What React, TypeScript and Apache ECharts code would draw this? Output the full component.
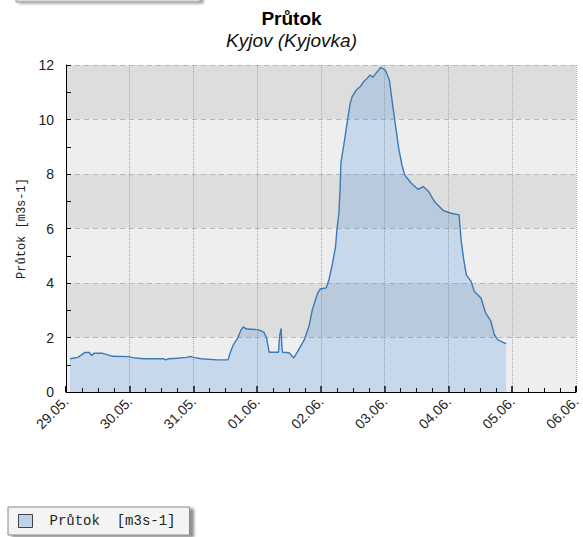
import React, { useEffect, useRef } from "react";
import * as echarts from "echarts";

const times: string[] = [
  "2010-05-29 01:30", "2010-05-29 04:30", "2010-05-29 06:15", "2010-05-29 07:00",
  "2010-05-29 08:45", "2010-05-29 09:45", "2010-05-29 10:30", "2010-05-29 13:45",
  "2010-05-29 15:30", "2010-05-29 17:30", "2010-05-29 23:45", "2010-05-30 01:00",
  "2010-05-30 05:15", "2010-05-30 12:45", "2010-05-30 13:30", "2010-05-30 14:45",
  "2010-05-30 17:45", "2010-05-30 21:30", "2010-05-30 22:45", "2010-05-31 00:00",
  "2010-05-31 03:00", "2010-05-31 08:45", "2010-05-31 13:00", "2010-05-31 14:00",
  "2010-05-31 15:00", "2010-05-31 16:15", "2010-05-31 16:45", "2010-05-31 17:45",
  "2010-05-31 18:45", "2010-05-31 20:00", "2010-06-01 00:15", "2010-06-01 02:30",
  "2010-06-01 03:30", "2010-06-01 04:30", "2010-06-01 08:00", "2010-06-01 08:30",
  "2010-06-01 09:00", "2010-06-01 09:15", "2010-06-01 09:30", "2010-06-01 12:00",
  "2010-06-01 13:45", "2010-06-01 15:15", "2010-06-01 17:45", "2010-06-01 19:30",
  "2010-06-01 20:45", "2010-06-01 22:45", "2010-06-01 23:45", "2010-06-02 02:00",
  "2010-06-02 03:00", "2010-06-02 04:15", "2010-06-02 05:30", "2010-06-02 06:00",
  "2010-06-02 06:45", "2010-06-02 07:15", "2010-06-02 07:30", "2010-06-02 08:30",
  "2010-06-02 09:15", "2010-06-02 10:00", "2010-06-02 11:00", "2010-06-02 11:45",
  "2010-06-02 13:15", "2010-06-02 14:45", "2010-06-02 16:00", "2010-06-02 17:15",
  "2010-06-02 18:30", "2010-06-02 19:30", "2010-06-02 20:45", "2010-06-02 22:30",
  "2010-06-03 00:15", "2010-06-03 01:45", "2010-06-03 03:15", "2010-06-03 05:15",
  "2010-06-03 06:30", "2010-06-03 07:30", "2010-06-03 10:00", "2010-06-03 12:30",
  "2010-06-03 14:30", "2010-06-03 16:30", "2010-06-03 18:45", "2010-06-03 22:00",
  "2010-06-04 01:00", "2010-06-04 04:00", "2010-06-04 04:45", "2010-06-04 05:45",
  "2010-06-04 06:45", "2010-06-04 08:30", "2010-06-04 09:45", "2010-06-04 12:15",
  "2010-06-04 14:00", "2010-06-04 16:00", "2010-06-04 17:15", "2010-06-04 18:30",
  "2010-06-04 21:00", "2010-06-04 21:45",
];

const flows: number[] = [
  1.22, 1.27, 1.39, 1.45,
  1.45, 1.34, 1.42, 1.42,
  1.37, 1.31, 1.30, 1.26,
  1.22, 1.22, 1.18, 1.22,
  1.24, 1.27, 1.31, 1.27,
  1.22, 1.18, 1.18, 1.49,
  1.73, 1.92, 2.0, 2.25,
  2.39, 2.31, 2.29, 2.2,
  1.99, 1.46, 1.46, 2.1,
  2.33, 1.74, 1.46, 1.44,
  1.25, 1.49, 1.92, 2.41,
  3.02, 3.63, 3.78, 3.82,
  4.12, 4.67, 5.34, 5.95,
  6.56, 7.54, 8.4, 9.0,
  9.49, 9.98, 10.59, 10.84,
  11.08, 11.2, 11.38, 11.5,
  11.63, 11.55, 11.7, 11.91,
  11.81, 11.45, 10.35, 8.95,
  8.33, 7.97, 7.66, 7.44,
  7.54, 7.36, 6.99, 6.66,
  6.56, 6.5, 5.59, 4.86,
  4.3, 4.06, 3.69, 3.45,
  2.9, 2.59, 2.11, 1.92,
  1.8, 1.78,
];

const xStart = "2010-05-29 00:00";
const xEnd = "2010-06-06 00:00";
const yMin = 0;
const yMax = 12;
const yStep = 2;

const titleText = "Průtok";
const subtitleText = "Kyjov (Kyjovka)";
const yName = "Průtok [m3s-1]";
const seriesName = "Průtok\u00a0\u00a0[m3s-1]";

const DAY = 24 * 3600 * 1000;

function fmtDay(v: number): string {
  const d = new Date(v);
  const dd = String(d.getDate()).padStart(2, "0");
  const mm = String(d.getMonth() + 1).padStart(2, "0");
  return dd + "." + mm + ".";
}

export default function App() {
  const ref = useRef<HTMLDivElement>(null);
  useEffect(() => {
    if (!ref.current) return;
    const chart = echarts.init(ref.current, null, { renderer: "svg" });
    chart.setOption({
      animation: false,
      backgroundColor: "#ffffff",
      title: {
        text: titleText,
        subtext: subtitleText,
        left: "center",
        top: 4,
        itemGap: 3,
        textStyle: { fontFamily: "Liberation Sans", fontSize: 19, fontWeight: "bold", color: "#000" },
        subtextStyle: { fontFamily: "Liberation Sans", fontSize: 19, fontStyle: "italic", color: "#111" },
      },
      graphic: [
        {
          type: "rect",
          shape: { x: 16, y: -12, width: 184, height: 14 },
          style: {
            fill: "#d9d9d9",
            stroke: "#9a9a9a",
            lineWidth: 1,
            shadowBlur: 3,
            shadowColor: "rgba(0,0,0,0.4)",
            shadowOffsetX: 3,
            shadowOffsetY: 1,
          },
        },
      ],
      legend: {
        left: 8,
        top: 507,
        padding: [7, 14, 7, 10],
        backgroundColor: "#f4f4f4",
        borderColor: "#888",
        borderWidth: 1,
        shadowColor: "rgba(0,0,0,0.45)",
        shadowBlur: 3,
        shadowOffsetX: 4,
        shadowOffsetY: 2,
        itemWidth: 14,
        itemHeight: 13,
        textStyle: { fontFamily: "Liberation Mono", fontSize: 14, color: "#222", padding: [0, 0, 0, 12] },
        data: [
          {
            name: seriesName,
            icon: "rect",
            itemStyle: { color: "#bcd3e8", borderColor: "#444", borderWidth: 1 },
          },
        ],
      },
      grid: { left: 66, right: 2, top: 65, bottom: 145, containLabel: false },
      xAxis: {
        type: "time",
        min: xStart,
        max: xEnd,
        minInterval: DAY,
        maxInterval: DAY,
        axisLine: { show: true, lineStyle: { color: "#000", width: 1 } },
        axisTick: { show: true, inside: true, length: 6, lineStyle: { color: "#000", width: 1.5 } },
        minorTick: { show: true, splitNumber: 4, length: 4, lineStyle: { color: "#000", width: 1 } },
        axisLabel: {
          rotate: 45,
          margin: 7,
          fontFamily: "Liberation Sans",
          fontSize: 14,
          color: "#222",
          showMinLabel: true,
          showMaxLabel: true,
          formatter: (v: number) => fmtDay(v),
        },
        splitLine: { show: true, lineStyle: { type: "dotted", color: "#aaaaaa", width: 1 } },
      },
      yAxis: {
        type: "value",
        min: yMin,
        max: yMax,
        interval: yStep,
        name: yName,
        nameLocation: "middle",
        nameRotate: 90,
        nameGap: 37,
        nameTextStyle: { fontFamily: "Liberation Mono", fontSize: 12, color: "#222" },
        axisLine: { show: true, lineStyle: { color: "#000", width: 1 } },
        axisTick: { show: true, inside: true, length: 5, lineStyle: { color: "#000" } },
        minorTick: { show: true, splitNumber: 2, length: 5, lineStyle: { color: "#000" } },
        axisLabel: { fontFamily: "Liberation Sans", fontSize: 14, color: "#222", margin: 12 },
        splitLine: { show: true, lineStyle: { type: [5, 4], color: "#b8b8b8", width: 1 } },
        splitArea: { show: true, areaStyle: { color: ["#eeeeee", "#dddddd"] } },
      },
      series: [
        {
          type: "line",
          name: seriesName,
          data: times.map((t, i) => [t, flows[i]]),
          showSymbol: false,
          symbol: "none",
          lineStyle: { color: "#3a7ab8", width: 1.4 },
          itemStyle: { color: "#bcd3e8" },
          areaStyle: { color: "rgba(25,123,212,0.27)" },
        },
      ],
    });
    return () => chart.dispose();
  }, []);
  return <div ref={ref} style={{ position: "fixed", left: 0, top: 0, width: 583, height: 537 }} />;
}
